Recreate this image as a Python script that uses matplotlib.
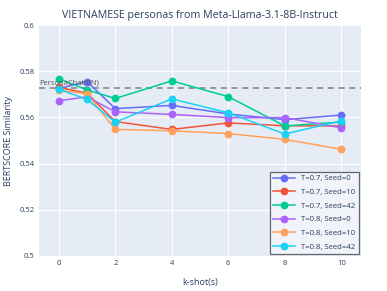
import matplotlib
matplotlib.use("Agg")
import matplotlib.pyplot as plt

k_shots = [0, 1, 2, 4, 6, 8, 10]
series_names = ["T=0.7, Seed=0", "T=0.7, Seed=10", "T=0.7, Seed=42",
                "T=0.8, Seed=0", "T=0.8, Seed=10", "T=0.8, Seed=42"]
t07_s0 = [0.5725, 0.5755, 0.5638, 0.5652, 0.5615, 0.5590, 0.5610]
t07_s10 = [0.5730, 0.5705, 0.5582, 0.5548, 0.5576, 0.5564, 0.5563]
t07_s42 = [0.5768, 0.5719, 0.5682, 0.5758, 0.5690, 0.5563, 0.5580]
t08_s0 = [0.5672, 0.5689, 0.5624, 0.5613, 0.5599, 0.5599, 0.5555]
t08_s10 = [0.5718, 0.5702, 0.5548, 0.5542, 0.5530, 0.5505, 0.5462]
t08_s42 = [0.5722, 0.5678, 0.5579, 0.5680, 0.5620, 0.5528, 0.5585]
baseline = 0.5727
baseline_label = "PersonaChat(EN)"
y_ticks = [0.5, 0.52, 0.54, 0.56, 0.58, 0.6]
y_tick_labels = ["0.5", "0.52", "0.54", "0.56", "0.58", "0.6"]
x_ticks = [0, 2, 4, 6, 8, 10]

colors = ["#636efa", "#EF553B", "#00cc96", "#ab63fa", "#FFA15A", "#19d3f3"]
text_color = "#2a3f5f"
plt.rcParams['font.family'] = ['Open Sans', 'DejaVu Sans']

fig = plt.figure(figsize=(3.87, 2.91), dpi=100)
ax = fig.add_axes([39/387, 1-256/291, (361-39)/387, (256-25)/291])
ax.set_facecolor("#E5ECF6")
for s in ax.spines.values():
    s.set_visible(False)
ax.grid(True, color="white", linewidth=0.8)
ax.set_axisbelow(True)

for name, vals, c in zip(series_names, [t07_s0, t07_s10, t07_s42, t08_s0, t08_s10, t08_s42], colors):
    ax.plot(k_shots, vals, color=c, linewidth=1.1, marker="o", markersize=4.6, label=name)

ax.axhline(baseline, color="#808080", linestyle=(0, (4, 3)), linewidth=1.1, zorder=1.5)
ax.text(-0.68, baseline + 0.0006, baseline_label, fontsize=5.5, color="#555555", va="bottom", ha="left")

ax.set_xlim(-0.7, 10.7)
ax.set_ylim(0.5, 0.6)
ax.set_xticks(x_ticks)
ax.set_yticks(y_ticks)
ax.set_yticklabels(y_tick_labels)
ax.tick_params(length=0, labelsize=5.5, labelcolor=text_color, pad=3)
ax.set_xlabel("k-shot(s)", fontsize=6.5, color=text_color, labelpad=8)
ax.set_ylabel("BERTSCORE Similarity", fontsize=6.5, color=text_color, labelpad=5)
ax.set_title("VIETNAMESE personas from Meta-Llama-3.1-8B-Instruct", fontsize=7.7, color=text_color, pad=5)

leg = ax.legend(loc="lower right", fontsize=5.6, frameon=True, fancybox=False,
                bbox_to_anchor=(1.0, 0.0), borderaxespad=0.3, handlelength=2.8,
                labelspacing=0.8, labelcolor=text_color)
leg.get_frame().set_edgecolor("#444444")
leg.get_frame().set_facecolor("#F4F6FA")
leg.get_frame().set_linewidth(0.9)

fig.savefig("out.png", dpi=100)
